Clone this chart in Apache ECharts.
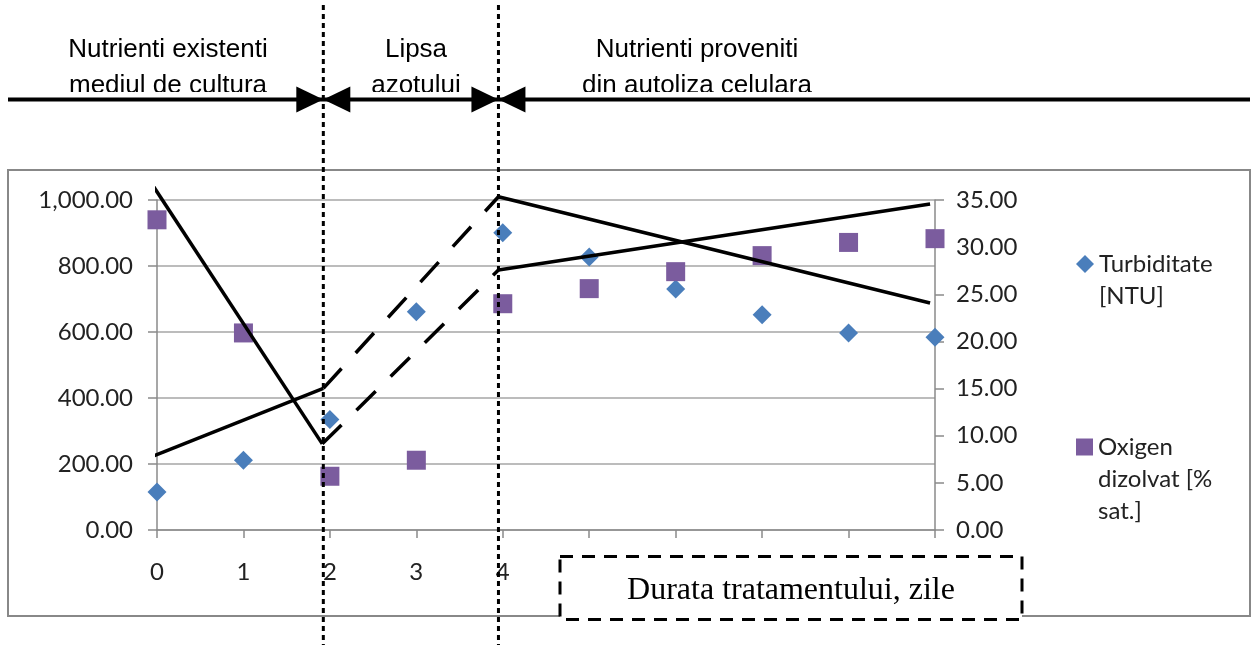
<!DOCTYPE html>
<html>
<head>
<meta charset="utf-8">
<script src="https://cdn.jsdelivr.net/npm/echarts@6/dist/echarts.min.js"></script>
<style>
  html, body { margin: 0; padding: 0; background: #fff; }
  #chart { width: 1252px; height: 645px; }
</style>
</head>
<body>
<div id="chart"></div>
<script>
// Measurements per day of treatment
const days = [0, 1, 2, 3, 4, 5, 6, 7, 8, 9];
const turbiditate = [115, 211, 335, 661, 901, 827, 730, 652, 597, 584];      // NTU
const oxigen = [32.9, 20.9, 5.7, 7.4, 24.0, 25.6, 27.4, 29.1, 30.5, 30.9];   // % sat.

const seriesNames = ['Turbiditate [NTU]', 'Oxigen dizolvat [% sat.]'];
const legendLines = [['Turbiditate', '[NTU]'], ['Oxigen', 'dizolvat [%', 'sat.]']];

// Phase boundaries (days) and phase titles
const phaseBounds = [1.924, 3.95];
const phaseTitles = [
  ['Nutrienti existenti', 'mediul de cultura'],
  ['Lipsa', 'azotului'],
  ['Nutrienti proveniti', 'din autoliza celulara']
];
const axisTitle = 'Durata tratamentului, zile';

// Hand-drawn trend guides, in (day, left-axis value) coordinates
const guideSolid = [
  [[-0.043, 1042], [1.912, 261]],
  [[-0.046, 224], [1.924, 429]],
  [[3.95, 1010], [8.943, 688]],
  [[3.95, 788], [8.943, 988]]
];
const guideDashed = [
  [[1.924, 429], [3.95, 1010]],
  [[1.912, 261], [3.95, 788]]
];

const FONT = 'Lato';
const TXT = '#222';
const AXIS_GRAY = '#8a8a8a';

const fmt = v => v.toLocaleString('en-US', { minimumFractionDigits: 2, maximumFractionDigits: 2 });

const chart = echarts.init(document.getElementById('chart'), null, { renderer: 'canvas' });

const guideSeries = [];
guideSolid.forEach(seg => guideSeries.push({
  type: 'line', data: seg, yAxisIndex: 0, symbol: 'none', clip: false, silent: true, z: 5,
  lineStyle: { color: '#000', width: 3.5 }
}));
guideDashed.forEach(seg => guideSeries.push({
  type: 'line', data: seg, yAxisIndex: 0, symbol: 'none', clip: false, silent: true, z: 5,
  lineStyle: { color: '#000', width: 3.5, type: [27, 21] }
}));

const legendBase = {
  orient: 'vertical', padding: 0, itemWidth: 18, itemHeight: 18,
  textStyle: { fontFamily: FONT, fontSize: 24, color: TXT, lineHeight: 32 },
  selectedMode: false
};

chart.setOption({
  animation: false,
  backgroundColor: '#fff',
  grid: { left: 157, top: 200, width: 778, height: 330, containLabel: false },
  legend: [
    Object.assign({}, legendBase, {
      data: [{ name: seriesNames[0], icon: 'diamond' }],
      left: 1076, top: 264 - 48,
      formatter: () => '\n' + legendLines[0].join('\n')
    }),
    Object.assign({}, legendBase, {
      data: [{ name: seriesNames[1], icon: 'rect' }],
      itemWidth: 17, itemHeight: 17,
      left: 1076, top: 447 - 80,
      formatter: () => '\n\n' + legendLines[1].join('\n')
    })
  ],
  xAxis: {
    type: 'value', min: 0, max: 9, interval: 1,
    axisLine: { show: true, onZero: false, lineStyle: { color: AXIS_GRAY, width: 1.5 } },
    axisTick: { show: true, length: 8, lineStyle: { color: AXIS_GRAY, width: 1.5 } },
    splitLine: { show: false },
    axisLabel: { fontFamily: FONT, fontSize: 24, color: TXT, margin: 30 }
  },
  yAxis: [
    {
      type: 'value', min: 0, max: 1000, interval: 200, position: 'left',
      axisLine: { show: true, lineStyle: { color: AXIS_GRAY, width: 1.5 } },
      axisTick: { show: true, length: 9, lineStyle: { color: AXIS_GRAY, width: 1.5 } },
      splitLine: { show: true, lineStyle: { color: '#a6a6a6', width: 1.5 } },
      axisLabel: { fontFamily: FONT, fontSize: 24, color: TXT, margin: 24, formatter: fmt }
    },
    {
      type: 'value', min: 0, max: 35, interval: 5, position: 'right',
      axisLine: { show: true, lineStyle: { color: AXIS_GRAY, width: 1.5 } },
      axisTick: { show: true, length: 9, lineStyle: { color: AXIS_GRAY, width: 1.5 } },
      splitLine: { show: false },
      axisLabel: { fontFamily: FONT, fontSize: 24, color: TXT, margin: 21, formatter: fmt }
    }
  ],
  series: [
    {
      name: seriesNames[0], type: 'scatter', yAxisIndex: 0,
      symbol: 'diamond', symbolSize: [19, 19],
      itemStyle: { color: '#4A7EBB', opacity: 1 },
      data: days.map((d, i) => [d, turbiditate[i]]), z: 3
    },
    {
      name: seriesNames[1], type: 'scatter', yAxisIndex: 1,
      symbol: 'rect', symbolSize: [19, 19],
      itemStyle: { color: '#7B5C9E', opacity: 1 },
      data: days.map((d, i) => [d, oxigen[i]]), z: 3
    }
  ].concat(guideSeries)
});

// Annotation layer: phase dividers, arrows, titles and the axis title box
const divX = phaseBounds.map(b => chart.convertToPixel({ xAxisIndex: 0 }, b));
const arrowY = 99.5, triW = 27, triH = 13;
const g = [];

// chart frame
g.push({ type: 'rect', shape: { x: 8, y: 170, width: 1242, height: 446 },
  style: { fill: 'none', stroke: '#888', lineWidth: 2 }, z: 1 });

// phase titles
const titleX = [168, 416, 697];
phaseTitles.forEach((t, i) => {
  g.push({ type: 'text', x: titleX[i], y: 50, z: 20,
    style: { text: t[0], fill: '#000', font: '26px "Liberation Sans"', align: 'center', verticalAlign: 'middle' } });
  g.push({ type: 'text', x: titleX[i], y: 86, z: 20,
    style: { text: t[1], fill: '#000', font: '26px "Liberation Sans"', align: 'center', verticalAlign: 'middle' } });
});
// the title boxes cut the second line at its baseline
g.push({ type: 'rect', shape: { x: 0, y: 92, width: 1252, height: 6 }, style: { fill: '#fff' }, z: 21 });

// arrow line
g.push({ type: 'line', shape: { x1: 8, y1: arrowY, x2: 1250, y2: arrowY },
  style: { stroke: '#000', lineWidth: 4 }, z: 22 });
divX.forEach(x => {
  g.push({ type: 'polygon', shape: { points: [[x - triW, arrowY - triH], [x, arrowY], [x - triW, arrowY + triH]] },
    style: { fill: '#000' }, z: 22 });
  g.push({ type: 'polygon', shape: { points: [[x + triW, arrowY - triH], [x, arrowY], [x + triW, arrowY + triH]] },
    style: { fill: '#000' }, z: 22 });
});

// axis title box
g.push({ type: 'rect', shape: { x: 560, y: 556.5, width: 462, height: 63 },
  style: { fill: '#fff', stroke: '#000', lineWidth: 3, lineDash: [13, 9] }, z: 30 });
g.push({ type: 'text', x: 791, y: 590.5, z: 31,
  style: { text: axisTitle, fill: '#000', font: '32px "Liberation Serif"', align: 'center', verticalAlign: 'middle' } });

// dotted phase dividers
divX.forEach(x => {
  g.push({ type: 'line', shape: { x1: x, y1: 5, x2: x, y2: 645 },
    style: { stroke: '#000', lineWidth: 3, lineDash: [5, 4] }, z: 40 });
});

chart.setOption({ graphic: { elements: g } });
</script>
</body>
</html>
